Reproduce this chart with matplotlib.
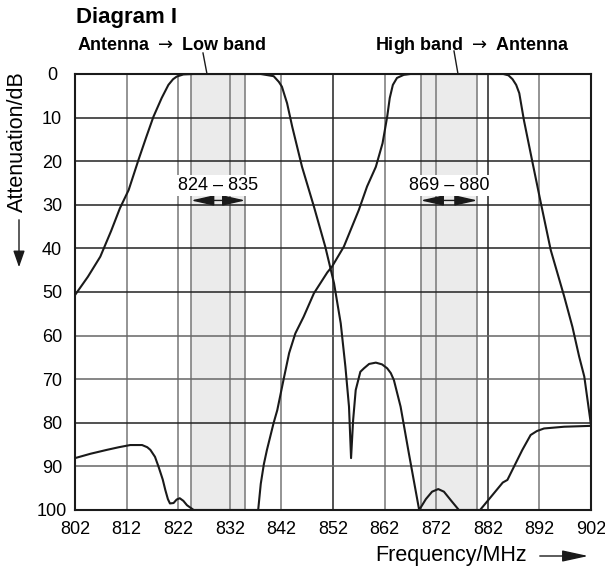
import matplotlib
matplotlib.use('Agg')
import matplotlib.pyplot as plt
from matplotlib.patches import FancyArrowPatch

plt.rcParams['font.family'] = ['Liberation Sans', 'DejaVu Sans']

# === DATA ===
# Antenna -> Low band
low_f = [802, 804.5, 806.9, 809, 810.7, 812.4, 814.3, 815.8, 817.2, 818.8, 820.1, 821, 821.7, 823, 825,
         838, 840.5, 841.5, 842.1, 842.7, 843.1, 844.1, 846, 848.3, 850.5, 852.2, 853.5, 854.4, 855.1, 855.5,
         855.9, 856.4, 857.3, 858, 859, 860.3, 861.5, 862.5, 863.2, 863.8, 865.1, 866.7, 868.7,
         870, 871.2, 872.4, 873.5, 875, 876.4, 880.5, 882.6, 884.9, 885.8, 887.1, 888.7, 890.3, 891.5,
         892.9, 896.8, 902]
low_db = [50.7, 46.5, 41.9, 36, 30.8, 26.6, 19.7, 14.5, 9.8, 5.5, 2.5, 1.2, 0.6, 0.1, 0,
          0, 0.5, 1.8, 2.9, 5.2, 6.7, 12.1, 21.3, 30.4, 39.6, 48, 57.2, 67.1, 76.3, 88.1,
          79.4, 72.5, 68.3, 67.5, 66.5, 66.2, 66.6, 67.5, 68.6, 70.2, 76.3, 87, 100,
          97.5, 95.8, 95.2, 95.8, 98, 100, 100, 97, 93.7, 93.1, 90, 86.2, 82.8, 81.9,
          81.3, 80.9, 80.7]

# High band -> Antenna
high_f = [802, 805, 808.2, 810.5, 812.7, 815, 816, 816.6, 817.5, 818.2, 819, 819.5, 820, 820.4, 821.1,
          821.7, 822.3, 823, 823.7, 825, 837.5, 838, 838.6, 839.2, 840.5, 841.2, 842.4, 843.5, 844.7,
          846.3, 848.3, 850.9, 851.8, 854.1, 857, 858.6, 860.3, 861.6, 862.5, 863, 863.6, 864.4, 865.7,
          867, 885, 886, 886.8, 887.5, 888.1, 889, 890.7, 892.3, 894.2, 896.8, 898.4, 899.7, 900.7, 902]
high_db = [88.1, 87.1, 86.2, 85.6, 85.1, 85.1, 85.6, 86.2, 87.8, 90.1, 93, 95.4, 97.5, 98.5, 98.4,
           97.6, 97.3, 97.9, 98.9, 100, 100, 94, 89.5, 86.2, 80, 77.1, 70.2, 64, 59.5,
           55.7, 50.3, 45.5, 44.2, 39.6, 31.2, 25.8, 21.3, 15.9, 9.8, 5.5, 2.5, 0.9, 0.2,
           0, 0, 0.3, 1.2, 2.5, 4.4, 10.6, 20.5, 29.7, 40.4, 51, 58, 64.8, 69.4, 80.5]

bands = [(824.5, 835, '824 – 835'), (869, 880, '869 – 880')]
x_ticks = [802, 812, 822, 832, 842, 852, 862, 872, 882, 892, 902]
y_ticks = [0, 10, 20, 30, 40, 50, 60, 70, 80, 90, 100]
dark_x = [852, 882]
dark_y = [10, 20, 30, 40, 50, 80]

# === PLOT ===
fig = plt.figure(figsize=(6.05, 5.71), dpi=100)
ax = fig.add_axes([75/605, 1 - 510/571, 516/605, 436/571])

for lo, hi, label in bands:
    ax.axvspan(lo, hi, color='#ebebeb', zorder=0, lw=0)
    ax.axvline(lo, color='#777777', lw=1.1, zorder=1)
    ax.axvline(hi, color='#777777', lw=1.1, zorder=1)

for x in x_ticks[1:-1]:
    ax.axvline(x, color='#222222' if x in dark_x else '#777777', lw=1.1, zorder=1)
for y in y_ticks[1:-1]:
    ax.axhline(y, color='#222222' if y in dark_y else '#666666', lw=1.1, zorder=1)

ax.plot(low_f, low_db, color='#1a1a1a', lw=1.5, zorder=3, solid_joinstyle='round')
ax.plot(high_f, high_db, color='#1a1a1a', lw=1.5, zorder=3, solid_joinstyle='round')

for lo, hi, label in bands:
    ax.annotate('', xy=(hi, 29), xytext=(lo, 29),
                arrowprops=dict(arrowstyle='<|-|>,head_length=14,head_width=3.2', color='#1a1a1a',
                                lw=1, shrinkA=0, shrinkB=0, mutation_scale=1), zorder=4)
    ax.text((lo + hi) / 2, 25.6, label, ha='center', va='center', fontsize=13, zorder=5,
            bbox=dict(facecolor='white', edgecolor='none', pad=1.5))

ax.set_xlim(802, 902)
ax.set_ylim(100, 0)
ax.set_xticks(x_ticks)
ax.set_yticks(y_ticks)
ax.tick_params(axis='both', length=0, labelsize=13)
ax.tick_params(axis='x', pad=8)
ax.tick_params(axis='y', pad=16.5)
for lab in ax.get_yticklabels():
    lab.set_horizontalalignment('center')
for s in ax.spines.values():
    s.set_linewidth(1.5)
    s.set_color('#1a1a1a')
    s.set_zorder(6)

# titles and leader lines
fig.text(76/605, 1 - 18/571, 'Diagram I', fontsize=16, fontweight='bold', ha='left', va='center')
fig.text(77/605, 1 - 45.5/571, r'Antenna $\rightarrow$ Low band', fontsize=13, fontweight='bold',
         ha='left', va='center')
fig.text(375/605, 1 - 45.5/571, r'High band $\rightarrow$ Antenna', fontsize=13, fontweight='bold',
         ha='left', va='center')
fig.add_artist(plt.Line2D([203/605, 207/605], [1 - 53/571, 1 - 74/571], color='#1a1a1a', lw=1))
fig.add_artist(plt.Line2D([454/605, 458/605], [1 - 51/571, 1 - 74/571], color='#1a1a1a', lw=1))

# axis labels with arrows
fig.text(17/605, 1 - 141.5/571, 'Attenuation/dB', fontsize=15.5, rotation=90, ha='center', va='center')
fig.add_artist(FancyArrowPatch((19/605, 1 - 217/571), (19/605, 1 - 270/571), transform=fig.transFigure,
                               arrowstyle='-|>,head_length=10,head_width=3.5', color='#1a1a1a', lw=1,
                               mutation_scale=1))
fig.text(451/605, 1 - 555/571, 'Frequency/MHz', fontsize=15.5, ha='center', va='center')
fig.add_artist(FancyArrowPatch((537/605, 1 - 556/571), (591/605, 1 - 556/571), transform=fig.transFigure,
                               arrowstyle='-|>,head_length=16,head_width=3.5', color='#1a1a1a', lw=1,
                               mutation_scale=1))

fig.savefig('out.png', dpi=100)
